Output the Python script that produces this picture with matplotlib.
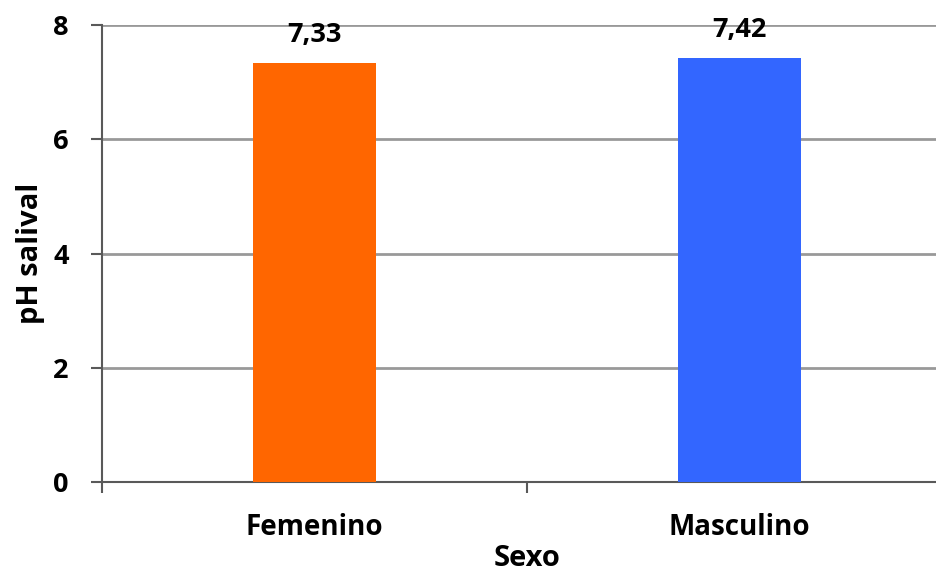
import matplotlib
matplotlib.use("Agg")
import matplotlib.pyplot as plt

categories = ["Femenino", "Masculino"]
values = [7.33, 7.42]
labels = ["7,33", "7,42"]
colors = ["#FF6600", "#3366FF"]
yticks = [0, 2, 4, 6, 8]

plt.rcParams['font.family'] = ['Open Sans', 'DejaVu Sans']
plt.rcParams['font.weight'] = 'bold'

fig = plt.figure(figsize=(9.37, 5.76), dpi=100)
ax = fig.add_axes([102/937, 1-482/576, 850/937, 457/576])

x = range(len(categories))
ax.bar(x, values, width=0.29, color=colors, zorder=3)
for xi, v, lab in zip(x, values, labels):
    ax.annotate(lab, (xi, v), xytext=(0, 11), textcoords="offset points",
                ha="center", va="bottom", fontsize=19.5, fontweight="bold")

ax.set_xlim(-0.5, 1.5)
ax.set_ylim(0, 8)
ax.set_yticks(yticks)
ax.set_yticklabels([str(t) for t in yticks], fontsize=19.5, fontweight="bold")
ax.yaxis.grid(True, color="#999999", linewidth=2, zorder=0)
ax.set_axisbelow(True)

ax.set_xticks([-0.5, 0.5, 1.5])
ax.set_xticklabels([])
ax.set_xticks([0, 1], minor=True)
ax.set_xticklabels(categories, minor=True, fontsize=20, fontweight="bold")
ax.tick_params(axis="x", which="minor", length=0, pad=22)
ax.tick_params(axis="x", which="major", length=8, width=1.5, color="#595959", direction="out")
ax.tick_params(axis="y", length=8, width=1.5, color="#595959", pad=16)

for s in ["top", "right"]:
    ax.spines[s].set_color("none")
for s in ["left", "bottom"]:
    ax.spines[s].set_color("#595959")
    ax.spines[s].set_linewidth(1.5)

ax.set_ylabel("pH salival", fontsize=21, fontweight="bold", labelpad=6)
ax.set_xlabel("Sexo", fontsize=21, fontweight="bold", labelpad=2)

fig.savefig("out.png", dpi=100)
